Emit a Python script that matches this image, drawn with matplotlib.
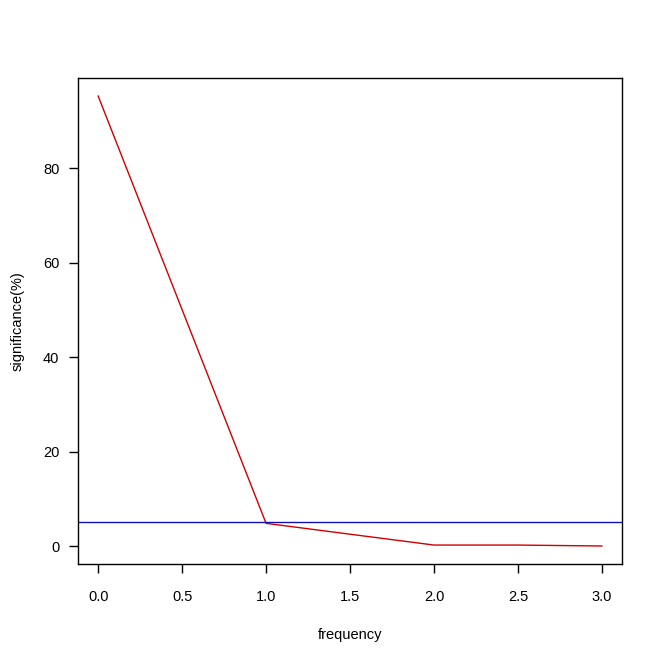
import matplotlib
matplotlib.use("Agg")
import matplotlib.pyplot as plt

# values
frequency = [0.0, 1.0, 2.0, 2.5, 3.0]
significance = [95.3, 4.8, 0.2, 0.2, 0.0]
threshold = 5.0
xticks = [0.0, 0.5, 1.0, 1.5, 2.0, 2.5, 3.0]
yticks = [0, 20, 40, 60, 80]

plt.rcParams['font.family'] = ['Liberation Sans', 'DejaVu Sans']

fig = plt.figure(figsize=(6.63, 6.62), dpi=100)
ax = fig.add_axes([78 / 663, 1 - 564 / 662, 544 / 663, 486 / 662])

ax.plot(frequency, significance, color='#d00000', lw=1)
ax.axhline(threshold, color='#1010b0', lw=1)

# R style 4% padding
xmin, xmax = min(frequency), max(frequency)
dx = (xmax - xmin) * 0.04
ax.set_xlim(xmin - dx, xmax + dx)
ymin, ymax = min(significance), max(significance)
dy = (ymax - ymin) * 0.04
ax.set_ylim(ymin - dy, ymax + dy)

ax.set_xticks(xticks)
ax.set_xticklabels([f"{t:.1f}" for t in xticks])
ax.set_yticks(yticks)
ax.tick_params(direction='out', length=6.5, width=1, labelsize=10.5, colors='black')
ax.tick_params(axis='x', pad=12.5)
ax.tick_params(axis='y', pad=7)
for s in ax.spines.values():
    s.set_linewidth(1)

ax.set_xlabel("frequency", fontsize=10.5, labelpad=17)
ax.set_ylabel("significance(%)", fontsize=10.5, labelpad=13)

fig.savefig("out.png", dpi=100)
